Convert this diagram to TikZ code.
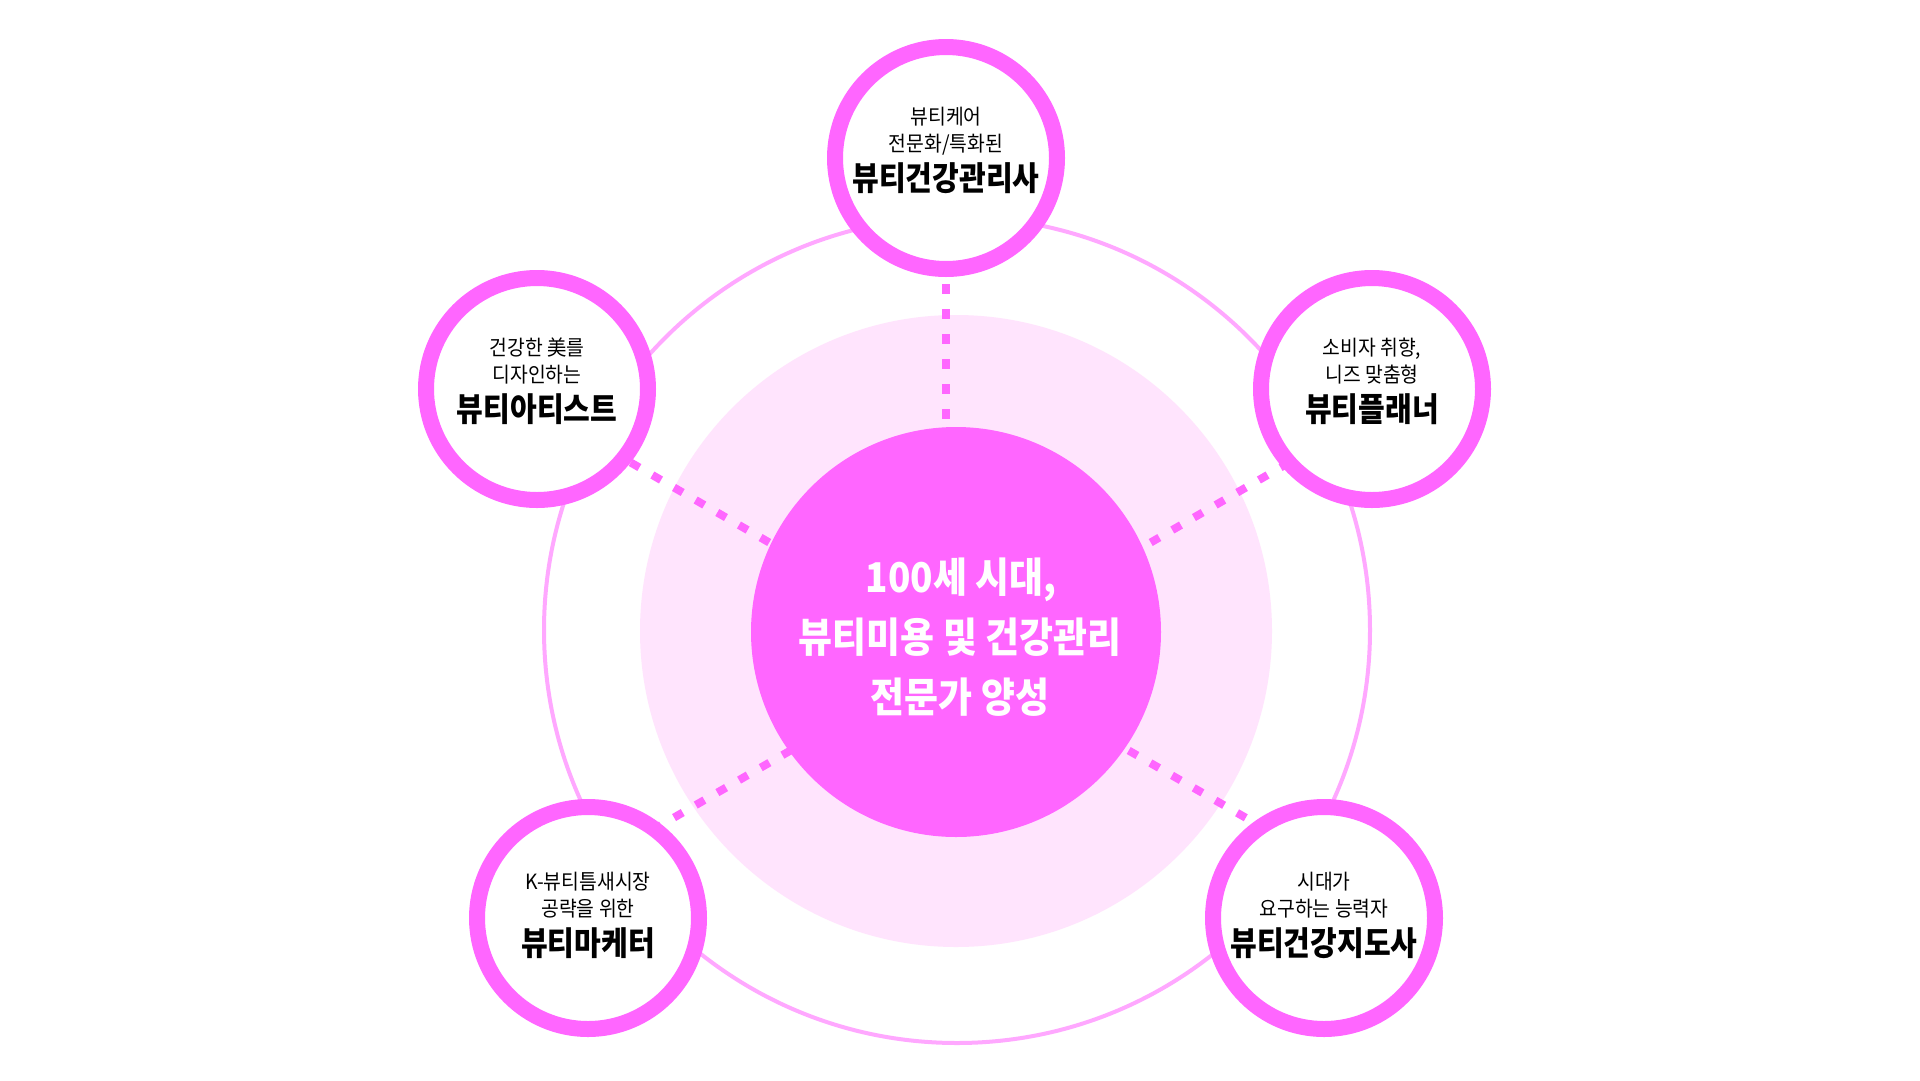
\documentclass[tikz,border=0pt]{standalone}
\usepackage{fontspec}
\setmainfont{Noto Sans CJK KR}
\newfontfamily\krsub[FakeStretch=0.92]{Noto Sans CJK KR}
\newfontfamily\krtitle[FakeStretch=0.88]{Noto Sans CJK KR}
\newfontfamily\krcore[FakeStretch=0.9]{Noto Sans CJK KR}
\usetikzlibrary{calc}
\definecolor{mag}{RGB}{255,102,255}
\definecolor{lightpink}{RGB}{255,228,253}
\definecolor{ringpink}{RGB}{255,168,255}
\tikzset{
  smallc/.style={circle, draw=mag, line width=16pt, fill=white, minimum size=222pt, inner sep=0pt},
  subtxt/.style={inner sep=0pt, anchor=base, font=\krsub\fontsize{21}{24}\selectfont, text=black},
  titletxt/.style={inner sep=0pt, anchor=base, font=\krtitle\bfseries\fontsize{33}{36}\selectfont, text=black},
  centertxt/.style={inner sep=0pt, anchor=base, font=\krcore\bfseries\fontsize{41}{44}\selectfont, text=white},
  dotline/.style={draw=mag, line width=8pt, dash pattern=on 10pt off 15pt},
}
\begin{document}
\begin{tikzpicture}[x=1pt,y=-1pt]
\useasboundingbox (0,0) rectangle (1920,1080);
\fill[white] (0,0) rectangle (1920,1080);
% outer thin ring
\node[circle, draw=ringpink, line width=4pt, minimum size=826pt, inner sep=0pt] (outer) at (957,630) {};
% light disc
\node[circle, fill=lightpink, minimum size=632pt, inner sep=0pt] (light) at (956,631) {};
% dotted connector end points
\coordinate (t1) at (946,284);   \coordinate (t2) at (946,419);
\coordinate (l1) at (630.7,462.5); \coordinate (l2) at (769.2,542.5);
\coordinate (r1) at (1289.2,462.5); \coordinate (r2) at (1150.7,542.5);
\coordinate (bl1) at (652.4,830); \coordinate (bl2) at (791,750.2);
\coordinate (br1) at (1128.7,750.5); \coordinate (br2) at (1267.9,830.5);
\draw[dotline] (t1) -- (t2);
\draw[dotline] (l1) -- (l2);
\draw[dotline] (r1) -- (r2);
\draw[dotline] (bl1) -- (bl2);
\draw[dotline] (br1) -- (br2);
% center disc
\node[circle, fill=mag, minimum size=410pt, inner sep=0pt] (core) at (956,632) {};
\node[centertxt] (core1) at (961,592) {100세 시대,};
\node[centertxt] (core2) at (960,652) {뷰티미용 및 건강관리};
\node[centertxt] (core3) at (960,712) {전문가 양성};
% small circles
\node[smallc] (c1) at (946,158) {};
\node[smallc] (c2) at (537,389) {};
\node[smallc] (c3) at (1372,389) {};
\node[smallc] (c4) at (588,918) {};
\node[smallc] (c5) at (1324,918) {};
% texts
\node[subtxt] (c1a) at ($(c1)+(0,-33.5)$) {뷰티케어};
\node[subtxt] (c1b) at ($(c1)+(0,-6.5)$) {전문화/특화된};
\node[titletxt] (c1c) at ($(c1)+(0,32)$) {뷰티건강관리사};
\node[subtxt] (c2a) at ($(c2)+(0,-33.5)$) {건강한 美를};
\node[subtxt] (c2b) at ($(c2)+(0,-6.5)$) {디자인하는};
\node[titletxt] (c2c) at ($(c2)+(0,32)$) {뷰티아티스트};
\node[subtxt] (c3a) at ($(c3)+(0,-33.5)$) {소비자 취향,};
\node[subtxt] (c3b) at ($(c3)+(0,-6.5)$) {니즈 맞춤형};
\node[titletxt] (c3c) at ($(c3)+(0,32)$) {뷰티플래너};
\node[subtxt] (c4a) at ($(c4)+(0,-29)$) {K-뷰티틈새시장};
\node[subtxt] (c4b) at ($(c4)+(0,-2)$) {공략을 위한};
\node[titletxt] (c4c) at ($(c4)+(0,37)$) {뷰티마케터};
\node[subtxt] (c5a) at ($(c5)+(0,-29)$) {시대가};
\node[subtxt] (c5b) at ($(c5)+(0,-2)$) {요구하는 능력자};
\node[titletxt] (c5c) at ($(c5)+(0,37)$) {뷰티건강지도사};
\end{tikzpicture}
\end{document}
